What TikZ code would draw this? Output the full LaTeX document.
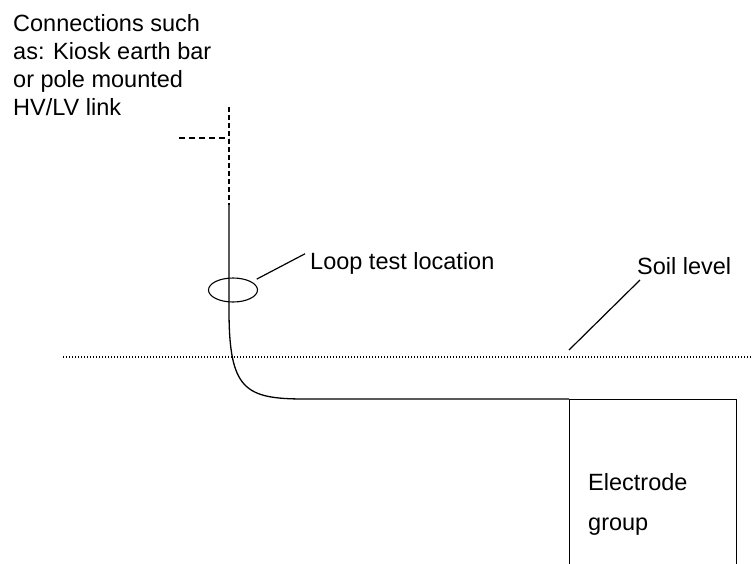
\documentclass[tikz,border=0pt]{standalone}
\usepackage{fontspec}
\setmainfont{Liberation Sans}
\usetikzlibrary{shapes.geometric}

\begin{document}
\begin{tikzpicture}[x=1pt,y=-1pt,font=\fontsize{23.5}{28}\selectfont,
	wire/.style={black,line width=1.3pt},
	lead/.style={black,line width=1.2pt},
	txt/.style={inner sep=0pt,anchor=base west}]
	\useasboundingbox (0,0) rectangle (753,563);
	\clip (0,0) rectangle (753,563);

	% texts
	\node[txt, anchor=north west, align=left] (conn) at (13,14) {Connections such\\as: Kiosk earth bar\\or pole mounted\\HV/LV link};
	\node[txt] (loop) at (310,269) {Loop test location};
	\node[txt] (soil) at (637,274) {Soil level};
	\node[txt, anchor=north west, align=left, font=\fontsize{23.5}{40}\selectfont] (egtxt) at (588,473) {Electrode\\group};

	% points of the earth lead
	\coordinate (top) at (229,107);
	\coordinate (stub) at (179,138);
	\coordinate (joint) at (229,138);
	\coordinate (solid) at (229,205);
	\coordinate (bend) at (229,310);
	\coordinate (foot) at (305,399);
	\coordinate (gl) at (63,357);
	\coordinate (gr) at (753,357);
	\coordinate (gp) at (569,350);

	\node[ellipse, draw, line width=1.1pt, minimum width=49pt, minimum height=24pt, inner sep=0pt] (ring) at (233,290) {};
	\node[draw, line width=1.3pt, anchor=north west, minimum width=167pt, minimum height=200pt, inner sep=0pt] (egroup) at (569,399) {};

	% earth lead
	\draw[wire, dash pattern=on 5pt off 3pt] (top) -- (solid);
	\draw[wire, dash pattern=on 6pt off 4pt] (stub) -- (joint);
	\draw[wire] (solid) -- (bend) .. controls (229,390) and (245,399) .. (foot) -- (egroup.north west);
	% soil level
	\draw[line width=1.2pt, dash pattern=on 1pt off 2pt] (gl) -- (gr);
	% leaders
	\draw[lead] ([xshift=6pt,yshift=2pt]ring.north east) -- ([xshift=-5pt,yshift=-2pt]loop.north west);
	\draw[lead] (gp) -- ([xshift=3pt,yshift=-6pt]soil.base west);
\end{tikzpicture}
\end{document}
